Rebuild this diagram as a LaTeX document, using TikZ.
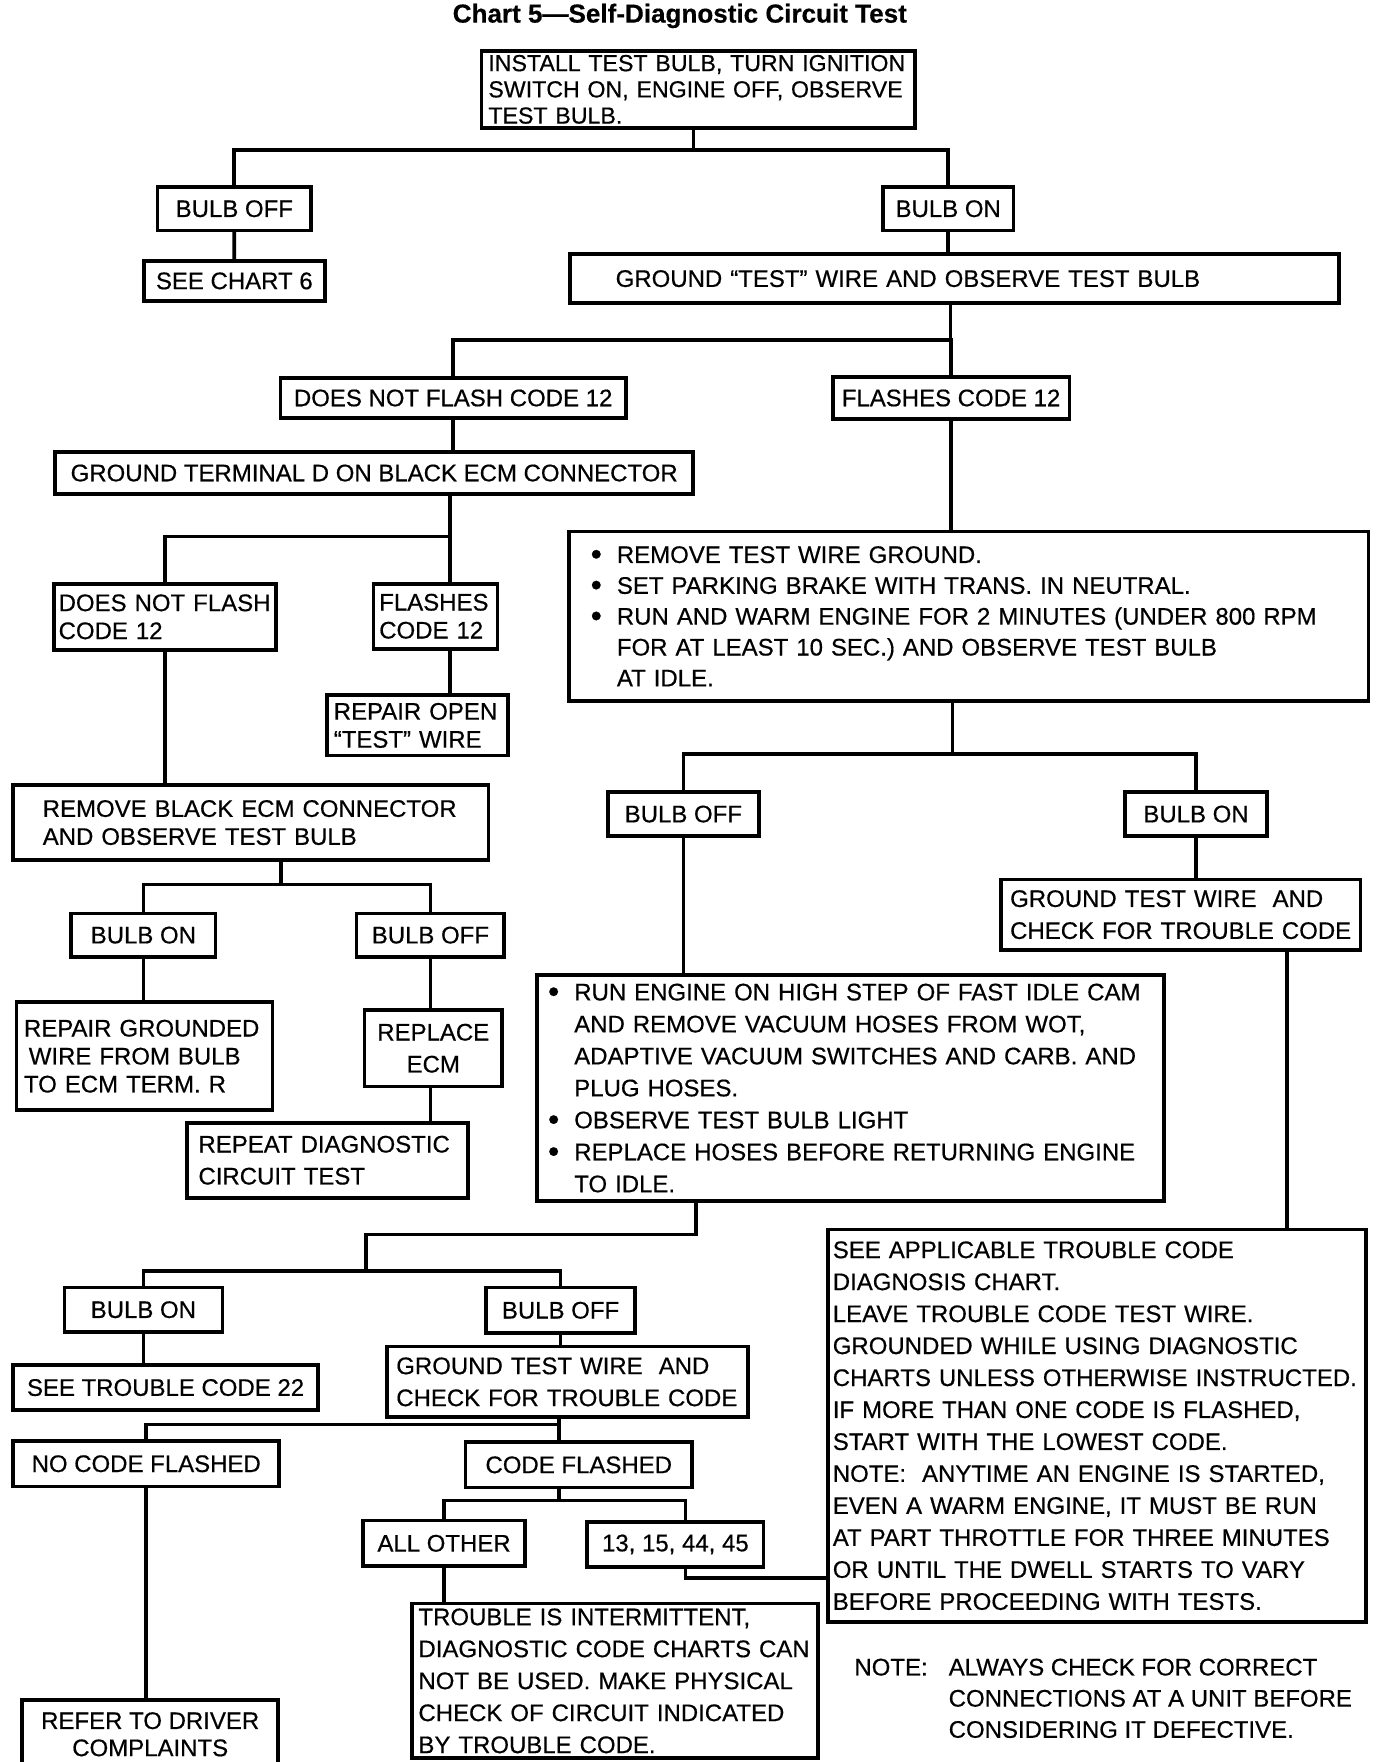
\documentclass[tikz,border=0pt]{standalone}
\usepackage{fontspec}
\setmainfont{Liberation Sans}[FakeBold=0.5]
\newcommand\bul{\makebox[16.4pt][l]{\raisebox{-1.2pt}{\fontsize{20}{20}\selectfont\textbullet}}}
\newcommand\bcont{\hspace*{16.4pt}}
\begin{document}
\begin{tikzpicture}[x=0.025cm, y=-0.025cm, line width=2.3pt,
  box/.style={draw, line width=2.3pt, inner sep=0pt, anchor=north west,
    align=center, font=\fontsize{15}{20}\selectfont},
  lbox/.style={box, align=left},
  tight/.style={font=\fontsize{15}{17.5}\selectfont},
]
\useasboundingbox (0,0) rectangle (1210,1550);
\clip (0,0) rectangle (1210,1550);

\node[font=\fontsize{16.3}{20}\selectfont\bfseries] (title) at (598,14) {Chart 5---Self-Diagnostic Circuit Test};

% upper part
\node[lbox, font=\fontsize{14.5}{16.4}\selectfont, minimum width=9.525cm, minimum height=1.7cm, text width=9.225cm] (install) at (422,43) {INSTALL TEST BULB, TURN IGNITION\\SWITCH ON, ENGINE OFF, OBSERVE\\TEST BULB.};
\node[box, minimum width=3.375cm, minimum height=0.95cm] (bulboff1) at (137,163) {BULB OFF};
\node[box, minimum width=2.875cm, minimum height=0.95cm] (bulbon1) at (775,163) {BULB ON};
\node[box, minimum width=3.975cm, minimum height=0.875cm] (chart6) at (125,228) {SEE CHART 6};
\node[lbox, minimum width=16.9cm, minimum height=1.075cm, text width=14.9cm] (groundtest) at (500,222) {GROUND “TEST” WIRE AND OBSERVE TEST BULB};
\node[box, minimum width=7.6cm, minimum height=0.875cm] (noflash) at (245,331) {DOES NOT FLASH CODE 12};
\node[box, minimum width=5.2cm, minimum height=0.925cm] (flashes) at (731,330) {FLASHES CODE 12};
\node[box, minimum width=14.025cm, minimum height=0.925cm] (groundD) at (47,396) {GROUND TERMINAL D ON BLACK ECM CONNECTOR};

% left branch
\node[lbox, tight, minimum width=4.875cm, minimum height=1.45cm, text width=4.675cm] (noflash2) at (46,512) {DOES NOT FLASH\\CODE 12};
\node[lbox, tight, minimum width=2.725cm, minimum height=1.425cm, text width=2.475cm] (flashes2) at (327,512) {FLASHES\\CODE 12};
\node[lbox, tight, minimum width=3.975cm, minimum height=1.325cm, text width=3.675cm] (repairopen) at (286,610) {REPAIR OPEN\\“TEST” WIRE};
\node[lbox, tight, minimum width=10.45cm, minimum height=1.65cm, text width=9.15cm] (removeblack) at (10,689) {REMOVE BLACK ECM CONNECTOR\\AND OBSERVE TEST BULB};
\node[box, minimum width=3.175cm, minimum height=0.95cm] (bulbon2) at (61,802) {BULB ON};
\node[box, minimum width=3.25cm, minimum height=0.95cm] (bulboff2) at (312,802) {BULB OFF};
\node[lbox, tight, minimum width=5.625cm, minimum height=2.375cm, text width=5.3cm] (repairgnd) at (13,880) {REPAIR GROUNDED\\\hspace*{3pt}WIRE FROM BULB\\TO ECM TERM. R};
\node[box, minimum width=3.025cm, minimum height=1.675cm] (replaceecm) at (319,887) {REPLACE\\ECM};
\node[lbox, minimum width=6.175cm, minimum height=1.65cm, text width=5.675cm] (repeat) at (163,986) {REPEAT DIAGNOSTIC\\CIRCUIT TEST};

% right branch
\node[lbox, font=\fontsize{15}{19.3}\selectfont, minimum width=17.575cm, minimum height=3.725cm, text width=16.625cm] (removetest) at (499,466) {\bul REMOVE TEST WIRE GROUND.\\\bul SET PARKING BRAKE WITH TRANS. IN NEUTRAL.\\\bul RUN AND WARM ENGINE FOR 2 MINUTES (UNDER 800 RPM\\\bcont FOR AT LEAST 10 SEC.) AND OBSERVE TEST BULB\\\bcont AT IDLE.};
\node[box, minimum width=3.325cm, minimum height=0.975cm] (bulboff3) at (533,695) {BULB OFF};
\node[box, minimum width=3.125cm, minimum height=0.975cm] (bulbon3) at (988,695) {BULB ON};
\node[lbox, minimum width=7.9cm, minimum height=1.55cm, text width=7.5cm] (groundchk1) at (879,772) {GROUND TEST WIRE\ \ AND\\CHECK FOR TROUBLE CODE};
\node[lbox, minimum width=13.775cm, minimum height=4.975cm, text width=13.3cm] (runengine) at (471,856) {\bul RUN ENGINE ON HIGH STEP OF FAST IDLE CAM\\\bcont AND REMOVE VACUUM HOSES FROM WOT,\\\bcont ADAPTIVE VACUUM SWITCHES AND CARB. AND\\\bcont PLUG HOSES.\\\bul OBSERVE TEST BULB LIGHT\\\bul REPLACE HOSES BEFORE RETURNING ENGINE\\\bcont TO IDLE.};
\node[lbox, minimum width=11.825cm, minimum height=8.625cm, text width=11.625cm] (seeapplic) at (727,1080) {SEE APPLICABLE TROUBLE CODE\\DIAGNOSIS CHART.\\LEAVE TROUBLE CODE TEST WIRE.\\GROUNDED WHILE USING DIAGNOSTIC\\CHARTS UNLESS OTHERWISE INSTRUCTED.\\IF MORE THAN ONE CODE IS FLASHED,\\START WITH THE LOWEST CODE.\\NOTE:\ \ ANYTIME AN ENGINE IS STARTED,\\EVEN A WARM ENGINE, IT MUST BE RUN\\AT PART THROTTLE FOR THREE MINUTES\\OR UNTIL THE DWELL STARTS TO VARY\\BEFORE PROCEEDING WITH TESTS.};

% lower part
\node[box, minimum width=3.475cm, minimum height=0.975cm] (bulbon4) at (55,1131) {BULB ON};
\node[box, minimum width=3.275cm, minimum height=1.0cm] (bulboff4) at (426,1131) {BULB OFF};
\node[box, minimum width=6.7cm, minimum height=1.0cm] (seetc22) at (10,1199) {SEE TROUBLE CODE 22};
\node[lbox, minimum width=7.925cm, minimum height=1.55cm, text width=7.525cm] (groundchk2) at (339,1183) {GROUND TEST WIRE\ \ AND\\CHECK FOR TROUBLE CODE};
\node[box, minimum width=5.85cm, minimum height=1.0cm] (nocode) at (10,1266) {NO CODE FLASHED};
\node[box, minimum width=4.975cm, minimum height=1.0cm] (codeflash) at (408,1267) {CODE FLASHED};
\node[box, minimum width=3.55cm, minimum height=1.0cm] (allother) at (318,1336) {ALL OTHER};
\node[box, minimum width=3.875cm, minimum height=1.0cm] (codes) at (515,1337) {13, 15, 44, 45};
\node[lbox, minimum width=8.925cm, minimum height=3.4cm, text width=8.65cm] (intermit) at (361,1409) {TROUBLE IS INTERMITTENT,\\DIAGNOSTIC CODE CHARTS CAN\\NOT BE USED. MAKE PHYSICAL\\CHECK OF CIRCUIT INDICATED\\BY TROUBLE CODE.};
\node[box, font=\fontsize{15}{17}\selectfont, minimum width=5.625cm, minimum height=1.5cm] (driver) at (18,1494) {REFER TO DRIVER\\COMPLAINTS};
\node[anchor=west, align=left, inner sep=0pt, font=\fontsize{15}{19.5}\selectfont] (note) at (750,1494) {\makebox[59pt][l]{NOTE:}ALWAYS CHECK FOR CORRECT\\\hspace*{59pt}CONNECTIONS AT A UNIT BEFORE\\\hspace*{59pt}CONSIDERING IT DEFECTIVE.};

% connectors
\coordinate (f1) at (610,132);
\draw (install.south -| f1) -- (f1);
\draw (bulboff1) |- (f1) -| (bulbon1);
\draw (bulboff1) -- (chart6);
\draw (bulbon1) -- (bulbon1 |- groundtest.north);
\coordinate (f2) at (836,299);
\draw (groundtest.south -| f2) -- (f2);
\draw (noflash) |- (f2) -| (flashes);
\draw (flashes) -- (flashes |- removetest.north);
\draw (noflash) -- (noflash |- groundD.north);
\coordinate (f3) at (396,472);
\draw (groundD.south -| f3) -- (f3 |- flashes2.north);
\draw (f3) -| (noflash2);
\draw (flashes2.south -| f3) -- (f3 |- repairopen.north);
\draw (noflash2) -- (noflash2 |- removeblack.north);
\coordinate (f4) at (247,778);
\draw (removeblack.south -| f4) -- (f4);
\draw (bulbon2) |- (f4) -| (bulboff2);
\draw (bulbon2) -- (bulbon2 |- repairgnd.north);
\draw (bulboff2) -- (bulboff2 |- replaceecm.north);
\draw (replaceecm.south -| bulboff2) -- (bulboff2 |- repeat.north);
\coordinate (f5) at (838,663);
\draw (removetest.south -| f5) -- (f5);
\draw (bulboff3) |- (f5) -| (bulbon3);
\draw (bulboff3) -- (bulboff3 |- runengine.north);
\draw (bulbon3) -- (bulbon3 |- groundchk1.north);
\coordinate (g1) at (1132,834);
\draw (g1) -- (g1 |- seeapplic.north);
\coordinate (f6) at (612,1086);
\coordinate (f7) at (322,1118);
\draw (runengine.south -| f6) -- (f6) -| (f7);
\draw (bulbon4) |- (f7) -| (bulboff4);
\draw (bulbon4) -- (bulbon4 |- seetc22.north);
\draw (bulboff4) -- (bulboff4 |- groundchk2.north);
\coordinate (f8) at (492,1253);
\draw (groundchk2.south -| f8) -- (f8 |- codeflash.north);
\draw (f8) -| (nocode);
\draw (nocode) -- (nocode |- driver.north);
\coordinate (f9) at (492,1320);
\coordinate (k1) at (603,1388);
\draw (codeflash.south -| f9) -- (f9);
\draw (allother) |- (f9) -| (k1 |- codes.north);
\draw (codes.south -| k1) -- (k1) -- (k1 -| seeapplic.west);
\draw (allother) -- (allother |- intermit.north);
\end{tikzpicture}
\end{document}
